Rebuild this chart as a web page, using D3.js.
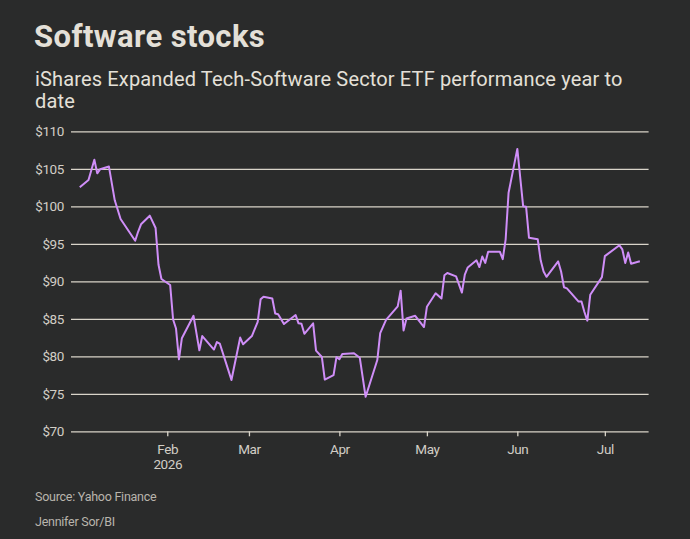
<!DOCTYPE html>
<html>
<head>
<meta charset="utf-8">
<script src="https://cdn.jsdelivr.net/npm/d3@7"></script>
<style>
  html, body { margin: 0; padding: 0; background: #2a2b2b; }
  svg { display: block; }
  text { font-family: "Roboto", "Inter", sans-serif; }
</style>
</head>
<body>
<svg id="chart" width="690" height="539"></svg>
<script>
const dates = [
  "2026-01-02","2026-01-05","2026-01-07","2026-01-08","2026-01-09","2026-01-12","2026-01-14","2026-01-16",
  "2026-01-21","2026-01-22","2026-01-23","2026-01-26","2026-01-28","2026-01-29","2026-01-30",
  "2026-02-02","2026-02-03","2026-02-04","2026-02-05","2026-02-06","2026-02-10","2026-02-12","2026-02-13",
  "2026-02-17","2026-02-18","2026-02-19","2026-02-23","2026-02-26","2026-02-27",
  "2026-03-02","2026-03-04","2026-03-05","2026-03-06","2026-03-09","2026-03-10","2026-03-11","2026-03-13",
  "2026-03-17","2026-03-18","2026-03-19","2026-03-20","2026-03-23","2026-03-24","2026-03-26","2026-03-27",
  "2026-03-30","2026-03-31","2026-04-01","2026-04-02","2026-04-06","2026-04-08","2026-04-10","2026-04-14",
  "2026-04-15","2026-04-17","2026-04-21","2026-04-22","2026-04-23","2026-04-24","2026-04-27","2026-04-30",
  "2026-05-01","2026-05-04","2026-05-06","2026-05-07","2026-05-08","2026-05-11","2026-05-13","2026-05-14",
  "2026-05-15","2026-05-18","2026-05-19","2026-05-20","2026-05-21","2026-05-22","2026-05-26","2026-05-27",
  "2026-05-28","2026-05-29","2026-06-01","2026-06-03","2026-06-04","2026-06-05","2026-06-08","2026-06-09",
  "2026-06-10","2026-06-11","2026-06-15","2026-06-16","2026-06-17","2026-06-18","2026-06-22","2026-06-23",
  "2026-06-24","2026-06-25","2026-06-26","2026-06-30","2026-07-01","2026-07-06","2026-07-07","2026-07-08",
  "2026-07-09","2026-07-10","2026-07-13"
];
const prices = [
  102.55,103.5,106.2,104.4,104.95,105.3,100.8,98.3,
  95.4,96.6,97.6,98.75,97.1,92.2,90.3,
  89.5,84.9,83.7,79.6,82.4,85.4,80.8,82.7,
  80.9,81.9,81.7,76.85,82.5,81.6,
  82.7,84.6,87.6,87.95,87.7,85.7,85.6,84.3,
  85.5,84.4,84.35,83.0,84.4,80.75,79.9,76.9,
  77.5,79.9,79.6,80.3,80.4,79.8,74.6,79.5,
  83.1,84.85,86.65,88.75,83.45,85.05,85.4,83.9,
  86.6,88.4,87.7,90.8,91.1,90.65,88.5,90.9,
  91.85,92.8,91.9,93.3,92.45,93.95,93.95,92.95,
  95.6,101.8,107.65,100.0,99.95,95.8,95.6,92.8,
  91.3,90.6,92.65,91.3,89.2,89.05,87.3,87.3,
  85.9,84.75,88.2,90.55,93.35,94.8,94.25,92.45,
  93.85,92.35,92.67
];
const yTicks = [70, 75, 80, 85, 90, 95, 100, 105, 110];
const xTickDates = ["2026-02-01","2026-03-01","2026-04-01","2026-05-01","2026-06-01","2026-07-01"];
const xTickLabels = ["Feb","Mar","Apr","May","Jun","Jul"];
const xDomain = ["2025-12-30","2026-07-16"];
const title = "Software stocks";
const subtitleLines = ["iShares Expanded Tech-Software Sector ETF performance year to", "date"];
const footnotes = ["Source: Yahoo Finance", "Jennifer Sor/BI"];

const parse = d3.utcParse("%Y-%m-%d");
const data = dates.map((d, i) => ({ date: parse(d), value: prices[i] }));

const svg = d3.select("#chart");
const bg = "#2a2b2b";
const gridColor = "#d9d4c9";
const textColor = "#d2cec6";
const lineColor = "#cf8ef8";

svg.append("rect").attr("width", 690).attr("height", 539).attr("fill", bg);

const x = d3.scaleUtc().domain(xDomain.map(parse)).range([71, 648.6]);
const y = d3.scaleLinear().domain([70, 110]).range([431.3, 131.3]);

// Title & subtitle
svg.append("text").attr("x", 34).attr("y", 47)
  .attr("fill", "#e4e0d8").attr("font-size", 31).attr("font-weight", 700)
  .attr("letter-spacing", 0.4)
  .text(title);
subtitleLines.forEach((t, i) => {
  svg.append("text").attr("x", 35).attr("y", 86 + i * 22)
    .attr("fill", "#e4e0d8").attr("font-size", 20).attr("letter-spacing", 0.15)
    .text(t);
});

// Y grid + labels
const yAxis = d3.axisLeft(y).tickValues(yTicks).tickSize(-(648.6 - 71))
  .tickFormat(d => "$" + d).tickPadding(7);
const gy = svg.append("g").attr("transform", "translate(71,0)").call(yAxis);
gy.select(".domain").remove();
gy.selectAll(".tick line").attr("stroke", gridColor).attr("stroke-width", 1.3);
gy.selectAll(".tick text").attr("fill", textColor).attr("font-size", 13.5)
  .attr("font-family", "Roboto, sans-serif").attr("letter-spacing", -0.4);

// X axis
const xAxis = d3.axisBottom(x).tickValues(xTickDates.map(parse))
  .tickSize(5).tickPadding(8).tickFormat((d, i) => xTickLabels[i]);
const gx = svg.append("g").attr("transform", `translate(0,${y(70)})`).call(xAxis);
gx.select(".domain").remove();
gx.selectAll(".tick line").attr("stroke", gridColor).attr("stroke-width", 1.3);
gx.selectAll(".tick text").attr("fill", textColor).attr("font-size", 13.5)
  .attr("font-family", "Roboto, sans-serif").attr("letter-spacing", -0.4);
gx.selectAll(".tick").filter((d, i) => i === 0).select("text")
  .append("tspan").attr("x", 0).attr("dy", "1.15em").text("2026");

// Line
const line = d3.line().x(d => x(d.date)).y(d => y(d.value));
svg.append("path").datum(data)
  .attr("fill", "none").attr("stroke", lineColor).attr("stroke-width", 2)
  .attr("stroke-linejoin", "round").attr("d", line);

// Footnotes
footnotes.forEach((t, i) => {
  svg.append("text").attr("x", 35).attr("y", 501 + i * 25)
    .attr("fill", "#b9b5ad").attr("font-size", 12.5).attr("letter-spacing", -0.25)
    .text(t);
});
</script>
</body>
</html>
